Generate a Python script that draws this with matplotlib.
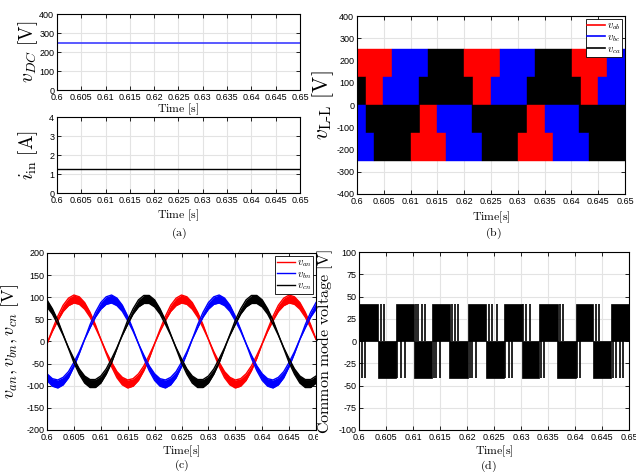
import numpy as np
import matplotlib
matplotlib.use("Agg")
import matplotlib.pyplot as plt
from matplotlib.transforms import Bbox

plt.rcParams['mathtext.fontset'] = 'cm'
plt.rcParams['font.family'] = ['Liberation Sans Narrow', 'Liberation Sans', 'DejaVu Sans']
plt.rcParams['axes.unicode_minus'] = False

# ---- shared time axis ----
t_span = [0.6, 0.65]
t_ticks = [0.6, 0.605, 0.61, 0.615, 0.62, 0.625, 0.63, 0.635, 0.64, 0.645, 0.65]
t_labels = ['0.6', '0.605', '0.61', '0.615', '0.62', '0.625', '0.63', '0.635', '0.64', '0.645', '0.65']

# ---- (a) dc input ----
v_dc = [250, 250]
i_in = [1.25, 1.25]

# ---- (b) line-to-line voltages: visible PWM bands ----
vll_bands = [(125, 250), (0, 125), (-125, 0), (-250, -125)]
vll_edges = [
    [0.6, 0.6065, 0.6132, 0.6199, 0.6266, 0.6333, 0.6401, 0.6467, 0.65],
    [0.6, 0.6017, 0.6048, 0.6116, 0.6217, 0.6250, 0.6317, 0.6418, 0.6449, 0.65],
    [0.6, 0.6016, 0.6117, 0.6149, 0.6214, 0.6317, 0.6350, 0.6415, 0.65],
    [0.6, 0.6031, 0.6100, 0.6166, 0.6233, 0.6300, 0.6366, 0.6433, 0.65],
]
vll_phase = [
    ['ab', 'bc', 'ca', 'ab', 'bc', 'ca', 'ab', 'bc'],
    ['ca', 'ab', 'bc', 'ca', 'ab', 'bc', 'ca', 'ab', 'bc'],
    ['bc', 'ca', 'ab', 'bc', 'ca', 'ab', 'bc', 'ca'],
    ['bc', 'ca', 'ab', 'bc', 'ca', 'ab', 'bc', 'ca'],
]

# ---- (c) phase voltages, outer / inner edge of the ripple band (1 ms samples) ----
t_ph = np.linspace(0.6, 0.65, 51)
va_out = [-5, 27, 57, 82, 98, 105, 101, 88, 66, 38, 5, -27, -57, -82, -98, -105, -101, -88, -66, -38,
          -5, 27, 57, 82, 98, 105, 101, 88, 66, 38, 5, -27, -57, -82, -98, -105, -101, -88, -66, -38,
          -5, 27, 57, 82, 98, 105, 101, 88, 66, 38, 5]
va_in = [-5, 23, 47, 68, 81, 87, 84, 73, 55, 31, 5, -23, -47, -68, -81, -87, -84, -73, -55, -31,
         -5, 23, 47, 68, 81, 87, 84, 73, 55, 31, 5, -23, -47, -68, -81, -87, -84, -73, -55, -31,
         -5, 23, 47, 68, 81, 87, 84, 73, 55, 31, 5]
vb_out = [-88, -101, -105, -98, -82, -57, -27, 5, 38, 66, 88, 101, 105, 98, 82, 57, 27, -5, -38, -66,
          -88, -101, -105, -98, -82, -57, -27, 5, 38, 66, 88, 101, 105, 98, 82, 57, 27, -5, -38, -66,
          -88, -101, -105, -98, -82, -57, -27, 5, 38, 66, 88]
vb_in = [-73, -84, -87, -81, -68, -47, -23, 5, 31, 55, 73, 84, 87, 81, 68, 47, 23, -5, -31, -55,
         -73, -84, -87, -81, -68, -47, -23, 5, 31, 55, 73, 84, 87, 81, 68, 47, 23, -5, -31, -55,
         -73, -84, -87, -81, -68, -47, -23, 5, 31, 55, 73]
vc_out = [94, 74, 48, 16, -16, -48, -74, -94, -104, -104, -94, -74, -48, -16, 16, 48, 74, 94, 104, 104,
          94, 74, 48, 16, -16, -48, -74, -94, -104, -104, -94, -74, -48, -16, 16, 48, 74, 94, 104, 104,
          94, 74, 48, 16, -16, -48, -74, -94, -104, -104, -94]
vc_in = [78, 62, 39, 14, -14, -39, -62, -78, -86, -86, -78, -62, -39, -14, 14, 39, 62, 78, 86, 86,
         78, 62, 39, 14, -14, -39, -62, -78, -86, -86, -78, -62, -39, -14, 14, 39, 62, 78, 86, 86,
         78, 62, 39, 14, -14, -39, -62, -78, -86, -86, -78]

# ---- (d) common mode voltage ----
cmv_level = 41.7
cmv_pos_blocks = [(0.6, 0.6036), (0.6068, 0.6102), (0.6135, 0.6168), (0.6201, 0.6236),
                  (0.6268, 0.6302), (0.6334, 0.6368), (0.6401, 0.6434), (0.6467, 0.65)]
cmv_pos_spikes = [0.6041, 0.6047, 0.6105, 0.6110, 0.6117, 0.6122, 0.6172, 0.6177, 0.6184,
                  0.6241, 0.6246, 0.6255, 0.6304, 0.6309, 0.6316, 0.6373, 0.6378, 0.6439, 0.6444]
cmv_neg_blocks = [(0.6035, 0.6068), (0.6101, 0.6135), (0.6167, 0.6201), (0.6235, 0.6268),
                  (0.6301, 0.6334), (0.6367, 0.6401), (0.6434, 0.6467)]
cmv_neg_spikes = [0.6005, 0.6011, 0.6071, 0.6078, 0.6085, 0.6138, 0.6143, 0.6150, 0.6205, 0.6210,
                  0.6217, 0.6271, 0.6277, 0.6284, 0.6337, 0.6342, 0.6404, 0.6410, 0.6471, 0.6476,
                  0.6483, 0.6488]

phase_color = {'ab': 'red', 'bc': 'blue', 'ca': 'black'}


def style(ax, yticks):
    ax.set_xlim(t_span)
    ax.set_ylim(yticks[0], yticks[-1])
    ax.set_xticks(t_ticks)
    ax.set_xticklabels(t_labels)
    ax.set_yticks(yticks)
    ax.tick_params(direction='in', top=True, right=True, length=3, width=0.6,
                   labelsize=6.5, pad=2)
    ax.grid(True, color='#e3e3e3', lw=0.8)
    ax.set_axisbelow(True)
    for s in ax.spines.values():
        s.set_linewidth(0.8)


def legend(ax, handles=None):
    lg = ax.legend(handles=handles, loc='upper right', fontsize=7.5, fancybox=False,
                   edgecolor='black', framealpha=1, borderpad=0.15, labelspacing=0.0,
                   handlelength=1.7, handletextpad=0.2, borderaxespad=0.25)
    lg.get_frame().set_linewidth(0.6)


fig = plt.figure(figsize=(6.36, 4.72), dpi=100)

# (a) top
ax1 = fig.add_axes([0.0896, 0.8093, 0.382, 0.161])
ax1.plot(t_span, v_dc, color='#3d3dff', lw=1.2)
style(ax1, [0, 100, 200, 300, 400])
ax1.set_ylabel(r'$v_{DC}\ [\mathrm{V}]$', fontsize=14)
ax1.yaxis.set_label_coords(-0.068, 0.5)
ax1.set_xlabel(r'$\mathrm{Time\ [s]}$', fontsize=8.5)
ax1.xaxis.set_label_coords(0.5, -0.155)

# (a) bottom
ax2 = fig.add_axes([0.0896, 0.591, 0.382, 0.161])
ax2.plot(t_span, i_in, color='black', lw=1.0)
style(ax2, [0, 1, 2, 3, 4])
ax2.set_ylabel(r'$i_{\mathrm{in}}\ [\mathrm{A}]$', fontsize=14)
ax2.yaxis.set_label_coords(-0.068, 0.5)
ax2.set_xlabel(r'$\mathrm{Time\ [s]}$', fontsize=8.5)
ax2.xaxis.set_label_coords(0.5, -0.19)

# (b)
ax3 = fig.add_axes([0.5613, 0.589, 0.4214, 0.377])
for (lo, hi), edges, phases in zip(vll_bands, vll_edges, vll_phase):
    cols = [phase_color[p] for p in phases]
    ax3.bar(edges[:-1], hi - lo, width=np.diff(edges), bottom=lo, align='edge',
            color=cols, edgecolor=cols, lw=0.3)
for p, lab in zip(['ab', 'bc', 'ca'], [r'$v_{ab}$', r'$v_{bc}$', r'$v_{ca}$']):
    ax3.plot([], [], color=phase_color[p], lw=1.2, label=lab)
style(ax3, [-400, -300, -200, -100, 0, 100, 200, 300, 400])
ax3.set_ylabel(r'$v_{\mathrm{L\text{-}L}}\ [\mathrm{V}]$', fontsize=15.5)
ax3.yaxis.set_label_coords(-0.08, 0.5)
ax3.set_xlabel(r'$\mathrm{Time[s]}$', fontsize=8.5)
ax3.xaxis.set_label_coords(0.5, -0.085)
legend(ax3)

# (c)
ax4 = fig.add_axes([0.0739, 0.089, 0.423, 0.375])
lines = []
for out, inn, col, lab in [(va_out, va_in, 'red', r'$v_{an}$'),
                           (vb_out, vb_in, 'blue', r'$v_{bn}$'),
                           (vc_out, vc_in, 'black', r'$v_{cn}$')]:
    ax4.fill_between(t_ph, inn, out, color=col, lw=0)
    ln, = ax4.plot(t_ph, out, color=col, lw=1.0, label=lab)
    ax4.plot(t_ph, inn, color=col, lw=1.0)
    lines.append(ln)
style(ax4, [-200, -150, -100, -50, 0, 50, 100, 150, 200])
ax4.set_ylabel(r'$v_{an},v_{bn},v_{cn}\ [\mathrm{V}]$', fontsize=13)
ax4.yaxis.set_label_coords(-0.097, 0.5)
ax4.set_xlabel(r'$\mathrm{Time[s]}$', fontsize=8.5)
ax4.xaxis.set_label_coords(0.5, -0.076)
legend(ax4, lines)

# (d)
ax5 = fig.add_axes([0.5645, 0.089, 0.4245, 0.377])
for a, b in cmv_pos_blocks:
    ax5.bar(a, cmv_level, width=b - a, align='edge', color='black', edgecolor='black', lw=0.5)
for a, b in cmv_neg_blocks:
    ax5.bar(a, -cmv_level, width=b - a, align='edge', color='black', edgecolor='black', lw=0.5)
ax5.vlines(cmv_pos_spikes, 0, cmv_level, color='black', lw=1.2)
ax5.vlines(cmv_neg_spikes, -cmv_level, 0, color='black', lw=1.2)
style(ax5, [-100, -75, -50, -25, 0, 25, 50, 75, 100])
ax5.set_ylabel(r'$\mathrm{Common\ mode\ voltage\ [V]}$', fontsize=11.5)
ax5.yaxis.set_label_coords(-0.088, 0.5)
ax5.set_xlabel(r'$\mathrm{Time[s]}$', fontsize=8.5)
ax5.xaxis.set_label_coords(0.5, -0.076)

# the (c) panel's last tick label is cut by the (d) panel in the source figure
fig.canvas.draw()
ax4.get_xticklabels()[-1].set_clip_box(Bbox([[0, 0], [318, 472]]))
ax4.get_xticklabels()[-1].set_clip_on(True)

# captions
for x, y, s in [(0.281, 0.506, '(a)'), (0.775, 0.506, '(b)'),
                (0.285, 0.014, '(c)'), (0.768, 0.013, '(d)')]:
    fig.text(x, y, r'$\mathrm{' + s + '}$', fontsize=8.5, ha='center', va='center')

fig.savefig('out.png', dpi=100)
